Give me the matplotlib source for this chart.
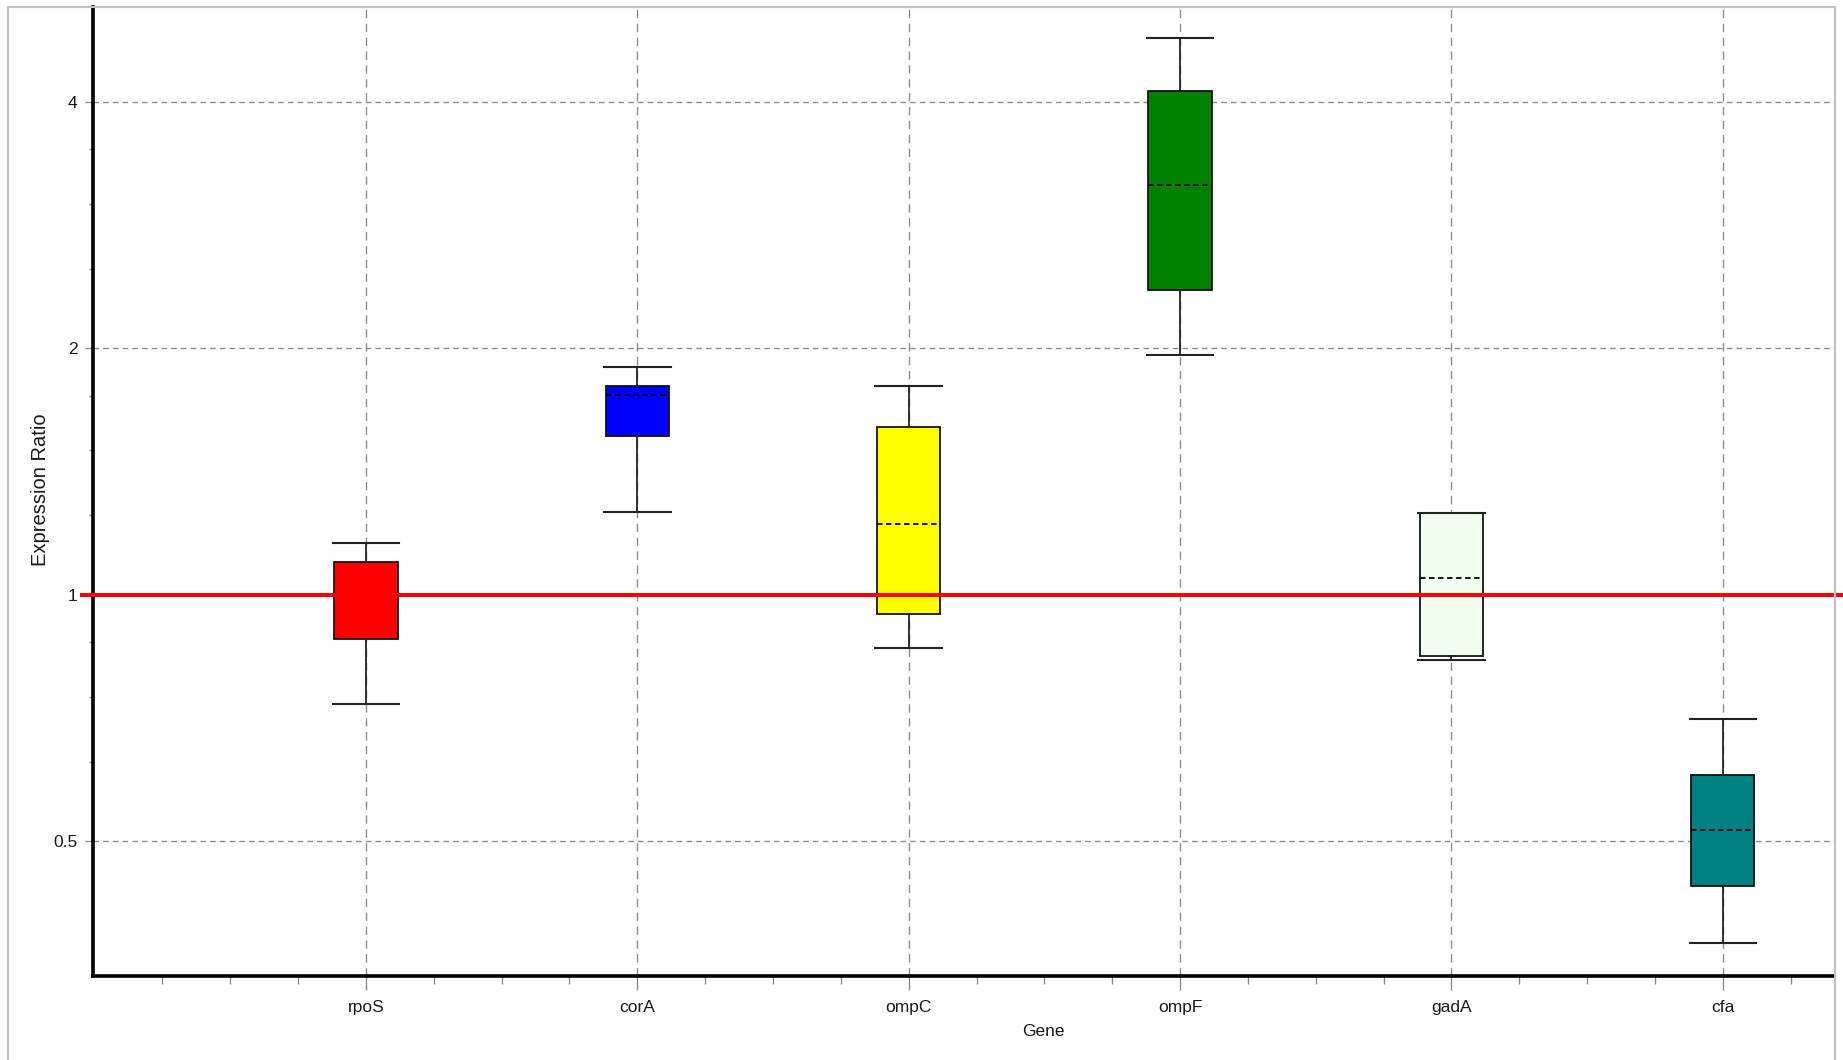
import numpy as np
import matplotlib
matplotlib.use("Agg")
import matplotlib.pyplot as plt
from matplotlib.ticker import FixedLocator, FixedFormatter, NullFormatter
from matplotlib.patches import Rectangle

# Expression ratios per gene (box summary statistics)
genes = ["rpoS", "corA", "ompC", "ompF", "gadA", "cfa"]
whisker_low = [0.736, 1.260, 0.860, 1.961, 0.832, 0.375]
q1 = [0.883, 1.561, 0.947, 2.354, 0.841, 0.441]
median = [1.000, 1.751, 1.219, 3.166, 1.048, 0.515]
q3 = [1.096, 1.799, 1.603, 4.118, 1.259, 0.602]
whisker_high = [1.156, 1.897, 1.799, 4.790, 1.259, 0.704]
box_colors = ["#FF0000", "#0000FF", "#FFFF00", "#008000", "#F0FFF0", "#008080"]

y_major = [0.5, 1, 2, 4]
y_major_labels = ["0.5", "1", "2", "4"]
y_minor = [0.625, 0.75, 0.875, 1.25, 1.5, 1.75, 2.5, 3, 3.5]
reference_ratio = 1.0

plt.rcParams["font.family"] = ["Liberation Sans", "DejaVu Sans"]
text_color = "#1a1a1a"
grid_color = "#8c8c8c"

W, H = 1843, 1060
fig = plt.figure(figsize=(W / 100, H / 100), dpi=100)
fig.patch.set_facecolor("white")

ax_left, ax_right, ax_top, ax_bottom = 93, 1834, 7, 976
ax = fig.add_axes([ax_left / W, 1 - ax_bottom / H,
                   (ax_right - ax_left) / W, (ax_bottom - ax_top) / H])
ax.set_facecolor("white")

ax.set_yscale("log", base=2)
ax.set_ylim(0.342, 5.22)
ax.set_xlim(-1.006, 5.41)

stats = [dict(label=g, med=m, q1=a, q3=b, whislo=lo, whishi=hi, fliers=[])
         for g, lo, a, m, b, hi in zip(genes, whisker_low, q1, median, q3, whisker_high)]

parts = ax.bxp(
    stats, positions=list(range(len(genes))), widths=0.233, capwidths=0.245,
    patch_artist=True, showfliers=False, manage_ticks=False,
    boxprops=dict(edgecolor="#111111", linewidth=1.3),
    whiskerprops=dict(color="#222222", linewidth=1.3),
    capprops=dict(color="#222222", linewidth=1.5),
    medianprops=dict(color="black", linewidth=1.3, linestyle=(0, (3, 2))),
)
for patch, c in zip(parts["boxes"], box_colors):
    patch.set_facecolor(c)
    patch.set_zorder(3)
for key in ("whiskers", "caps", "medians"):
    for ln in parts[key]:
        ln.set_zorder(4)

# x axis: categories with quarter-step minor ticks
ax.xaxis.set_major_locator(FixedLocator(list(range(len(genes)))))
ax.xaxis.set_major_formatter(FixedFormatter(genes))
minor_x = [v for v in np.arange(-0.75, 5.41, 0.25) if abs(v - round(v)) > 1e-6]
ax.xaxis.set_minor_locator(FixedLocator(minor_x))
ax.xaxis.set_minor_formatter(NullFormatter())

# y axis: log2 ratios
ax.yaxis.set_major_locator(FixedLocator(y_major))
ax.yaxis.set_major_formatter(FixedFormatter(y_major_labels))
ax.yaxis.set_minor_locator(FixedLocator(y_minor))
ax.yaxis.set_minor_formatter(NullFormatter())

ax.tick_params(axis="x", which="major", length=10, width=1, color=grid_color,
               direction="out", pad=7.5, labelsize=12.5, labelcolor=text_color)
ax.tick_params(axis="x", which="minor", length=6, width=1, color=grid_color,
               direction="out")
ax.tick_params(axis="y", which="major", length=6, width=1, color=grid_color,
               direction="out", pad=5, labelsize=12.5, labelcolor=text_color)
ax.tick_params(axis="y", which="minor", length=3, width=1, color=grid_color,
               direction="out")

ax.set_axisbelow(True)
ax.grid(True, which="major", axis="x", color=grid_color, linewidth=1,
        linestyle=(0, (6, 4)), zorder=0)
ax.grid(True, which="major", axis="y", color=grid_color, linewidth=1,
        linestyle=(0, (4, 3)), zorder=0)

for side in ("top", "right"):
    ax.spines[side].set_visible(False)
for side in ("left", "bottom"):
    ax.spines[side].set_linewidth(2.6)
    ax.spines[side].set_color("black")
    ax.spines[side].set_zorder(6)

# reference line at ratio 1
span = ax_right - ax_left
ax.axhline(reference_ratio, xmin=(82 - ax_left) / span, xmax=(W - ax_left) / span,
           color="#FF0000", linewidth=2.9, clip_on=False, zorder=7)

fig.text(41 / W, 1 - 490 / H, "Expression Ratio", rotation=90, ha="center",
         va="center", fontsize=14.5, color=text_color)
fig.text(1043 / W, 1 - 1031 / H, "Gene", ha="center", va="center",
         fontsize=12.5, color=text_color)

# window frame
fig.patches.append(Rectangle((8 / W, -0.05), (1835 - 8) / W, 1.05 - 7 / H,
                             transform=fig.transFigure, fill=False,
                             edgecolor="#c0c0c0", linewidth=1.5, zorder=0))

fig.savefig("out.png", dpi=100, facecolor="white")
